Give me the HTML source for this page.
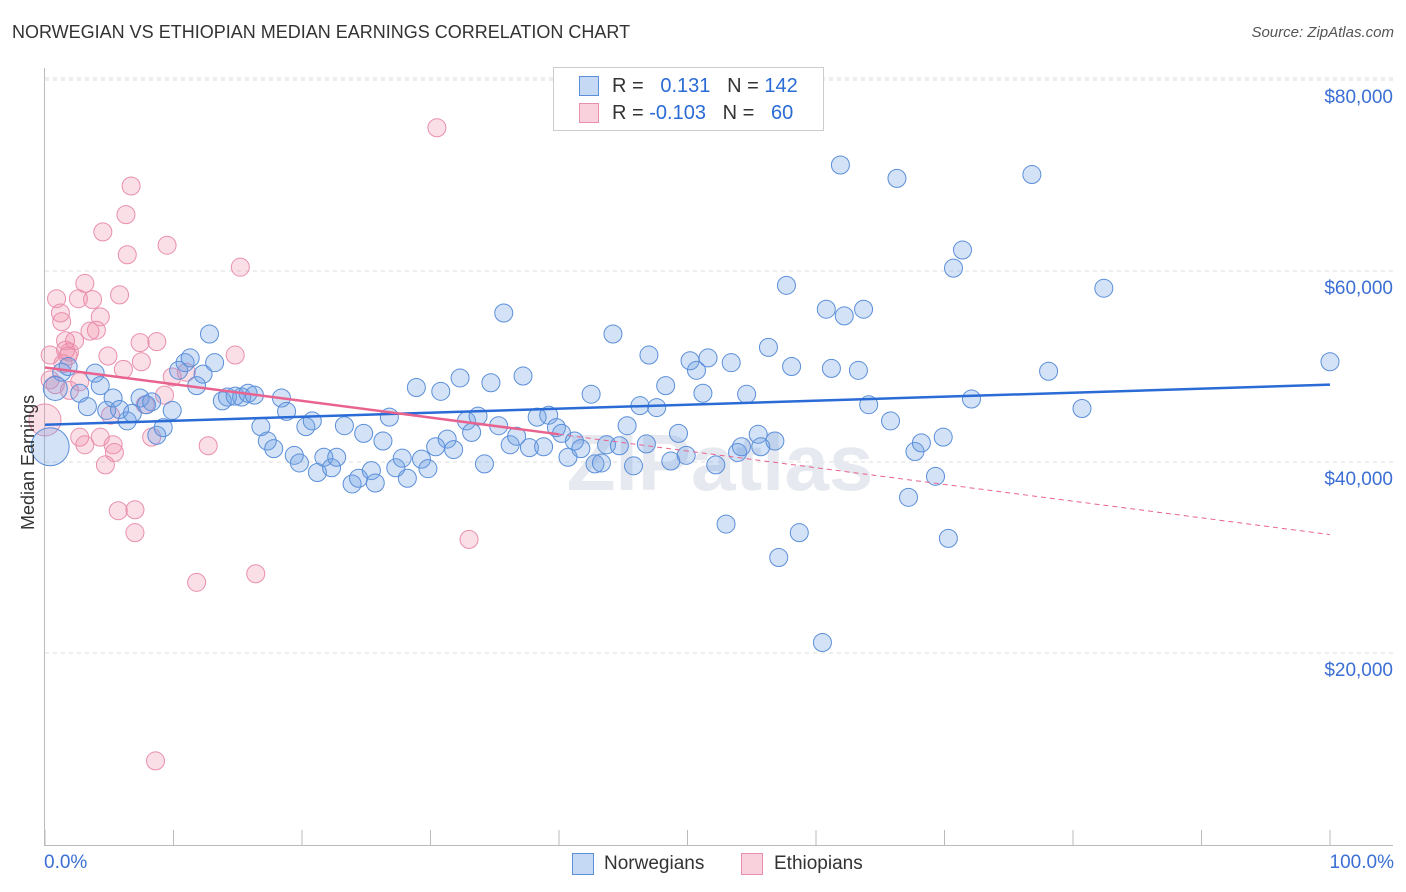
<!DOCTYPE html>
<html><head><meta charset="utf-8"><style>
body{margin:0;background:#fff;font-family:"Liberation Sans",sans-serif;}
#wrap{position:relative;width:1406px;height:892px;}
.t{position:absolute;white-space:nowrap;}
</style></head><body>
<div id="wrap">
<div class="t" style="left:12px;top:22px;font-size:18px;color:#333;">NORWEGIAN VS ETHIOPIAN MEDIAN EARNINGS CORRELATION CHART</div>
<div class="t" style="right:12px;top:24px;font-size:15px;color:#555;font-style:italic;">Source: ZipAtlas.com</div>
<svg id="svg" width="1406" height="892" style="position:absolute;left:0;top:0"></svg>
</div>
<script>
const yTicks=[20000,40000,60000,80000];
const yTickLabels=["$20,000","$40,000","$60,000","$80,000"];
const blueX=[1.3,1.8,2.7,3.9,4.3,3.3,4.8,5.3,5.8,6.4,6.8,7.4,7.9,8.3,8.7,9.2,9.9,10.4,10.9,11.3,11.8,12.3,12.8,13.2,13.8,14.2,14.8,15.3,15.8,16.3,16.8,17.3,17.8,18.4,18.8,19.4,19.8,20.3,20.8,21.2,21.7,22.3,22.7,23.3,23.9,24.4,24.8,25.4,25.7,26.3,26.8,27.3,27.8,28.2,28.9,29.3,29.8,30.4,30.8,31.3,31.8,32.3,32.8,33.2,33.7,34.2,34.7,35.3,35.7,36.2,36.7,37.2,37.7,38.3,38.8,39.2,39.8,40.2,40.7,41.2,41.7,42.5,42.8,43.3,43.7,44.2,44.7,45.3,45.8,46.3,46.8,47.0,47.6,48.3,48.7,49.3,49.9,50.2,50.7,51.2,51.6,52.2,53.0,53.4,53.9,54.2,54.6,55.5,55.7,56.3,56.8,57.1,57.7,58.1,58.7,60.5,60.8,61.2,61.9,62.2,63.3,63.7,64.1,65.8,66.3,67.2,67.7,68.2,69.3,69.9,70.3,70.7,71.4,72.1,76.8,78.1,80.7,82.4,100,0.4,0.8];
const blueY=[49.4,50.0,47.2,49.3,48.0,45.8,45.4,46.7,45.5,44.3,45.1,46.7,46.0,46.3,42.8,43.6,45.4,49.6,50.4,50.9,48.0,49.2,53.4,50.4,46.4,46.8,46.9,46.8,47.2,47.0,43.7,42.2,41.4,46.7,45.3,40.7,39.9,43.7,44.3,38.9,40.5,39.4,40.5,43.8,37.7,38.3,43.0,39.1,37.8,42.2,44.7,39.4,40.4,38.3,47.8,40.3,39.3,41.6,47.4,42.4,41.3,48.8,44.3,43.1,44.8,39.8,48.3,43.8,55.6,41.8,42.7,49.0,41.5,44.7,41.6,44.9,43.6,43.0,40.5,42.2,41.4,47.1,39.8,39.9,41.8,53.4,41.7,43.8,39.6,45.9,41.9,51.2,45.7,48.0,40.1,43.0,40.7,50.6,49.6,47.2,50.9,39.7,33.5,50.4,41.0,41.6,47.1,42.9,41.6,52.0,42.2,30.0,58.5,50.0,32.6,21.1,56.0,49.8,71.1,55.3,49.6,56.0,46.0,44.3,69.7,36.3,41.1,42.0,38.5,42.6,32.0,60.3,62.2,46.6,70.1,49.5,45.6,58.2,50.5,41.6,47.7];
const blueR=blueX.map((v,i)=>i===blueX.length-2?19:(i===blueX.length-1?12:9));
const pinkX=[0,0.4,0.8,0.9,1.2,1.3,1.4,1.6,1.8,1.9,2.3,2.6,2.7,2.7,3.1,3.1,3.5,3.7,4.0,4.3,4.3,4.7,4.5,4.9,5.1,5.3,5.4,5.7,5.8,6.1,6.3,6.4,6.7,7.0,7.0,7.4,7.5,7.8,8.3,8.6,8.7,9.3,9.5,9.9,11.0,11.8,12.7,14.8,15.2,16.4,30.5,33.0,1.6,1.9,0.4];
const pinkY=[44.4,48.6,48.1,57.1,55.6,54.7,50.3,51.7,51.1,51.5,52.7,57.1,48.4,42.6,58.7,41.8,53.7,57.0,53.8,55.2,42.6,39.7,64.1,51.1,44.9,41.8,41.0,34.9,57.5,49.7,65.9,61.7,68.9,35.0,32.6,52.5,50.5,46.0,42.6,8.7,52.6,47.0,62.7,48.9,49.4,27.4,41.7,51.2,60.4,28.3,75.0,31.9,52.7,47.5,51.2];
const blueTrend=[43.9,48.1];
const pinkTrend=[49.9,32.4];
const X0=45,X1=1330,YB=844,PXPER=191/20000;
const sx=p=>X0+(X1-X0)*p/100;
const sy=v=>YB-v*PXPER;
const svg=document.getElementById('svg');
const NS='http://www.w3.org/2000/svg';
function mk(tag,attrs){const e=document.createElementNS(NS,tag);for(const k in attrs)e.setAttribute(k,attrs[k]);svg.appendChild(e);return e;}
// gridlines
yTicks.forEach((t,i)=>{
 const g=mk('line',{x1:X0,x2:1393,y1:sy(t),y2:sy(t),stroke:'#ddd','stroke-dasharray':'4,4'});
 
 
 const tx=mk('text',{x:1393,y:sy(t)+23,'text-anchor':'end','font-size':19,fill:'#3b6fd4','font-family':'Liberation Sans'});
 tx.textContent=yTickLabels[i];
 
 
});
const topG=mk('line',{x1:X0,x2:1393,y1:78,y2:78,stroke:'#ddd','stroke-dasharray':'4,4'});


const ax=mk('line',{x1:44.5,x2:44.5,y1:68,y2:845,stroke:'#bbb'});


const bx=mk('line',{x1:44,x2:1393,y1:845.5,y2:845.5,stroke:'#bbb'});


for(let i=0;i<=10;i++){
 const tk=mk('line',{x1:sx(i*10),x2:sx(i*10),y1:830,y2:845,stroke:'#bbb'});
 
 
}
// watermark
const wm=mk('text',{x:720,y:490,'text-anchor':'middle','font-size':80,fill:'#e6e9ef','font-family':'Liberation Sans','font-weight':'bold'});
wm.textContent='ZIPatlas';


pinkX.forEach((p,i)=>{
 const c=mk('circle',{cx:sx(p),cy:sy(pinkY[i]*1000),r:i===0?16:9,fill:'rgba(240,140,170,0.28)',stroke:'#e98fae','stroke-width':1});
 
 
});
blueX.forEach((p,i)=>{
 const c=mk('circle',{cx:sx(p),cy:sy(blueY[i]*1000),r:blueR[i],fill:'rgba(110,160,230,0.3)',stroke:'#5b8fd9','stroke-width':1});
 
 
});
const bl=mk('line',{x1:sx(0),y1:sy(blueTrend[0]*1000),x2:sx(100),y2:sy(blueTrend[1]*1000),stroke:'#2a6bd6','stroke-width':2.5});


const pm=40,pv=pinkTrend[0]+(pinkTrend[1]-pinkTrend[0])*pm/100;
const pl=mk('line',{x1:sx(0),y1:sy(pinkTrend[0]*1000),x2:sx(pm),y2:sy(pv*1000),stroke:'#e8648f','stroke-width':2.5});


const pd=mk('line',{x1:sx(pm),y1:sy(pv*1000),x2:sx(100),y2:sy(pinkTrend[1]*1000),stroke:'#e8648f','stroke-width':1,'stroke-dasharray':'5,4'});


</script>
<div class="t" style="left:18px;top:530px;transform:rotate(-90deg);transform-origin:0 0;font-size:18px;color:#333;">Median Earnings</div>
<div class="t" style="left:44px;top:852px;font-size:19px;color:#3b6fd4;">0.0%</div>
<div class="t" style="right:12px;top:852px;font-size:19px;color:#3b6fd4;">100.0%</div>
<div style="position:absolute;left:553px;top:67px;width:269px;height:62px;border:1px solid #ccc;background:#fff;font-size:20px;">
 <div class="t" style="left:25px;top:8px;width:20px;height:20px;background:rgba(110,160,230,0.4);border:1px solid #5b8fd9;box-sizing:border-box;"></div>
 <div class="t" style="left:58px;top:7px;color:#333;">R = &nbsp;&nbsp;<span style="color:#2a6bd6">0.131</span>&nbsp;&nbsp;&nbsp;N = <span style="color:#2a6bd6">142</span></div>
 <div class="t" style="left:25px;top:35px;width:20px;height:20px;background:rgba(240,140,170,0.4);border:1px solid #e98fae;box-sizing:border-box;"></div>
 <div class="t" style="left:58px;top:34px;color:#333;">R = <span style="color:#2a6bd6">-0.103</span>&nbsp;&nbsp;&nbsp;N = &nbsp;&nbsp;<span style="color:#2a6bd6">60</span></div>
</div>
<div class="t" style="left:572px;top:853px;width:22px;height:22px;background:rgba(110,160,230,0.4);border:1px solid #5b8fd9;box-sizing:border-box;"></div>
<div class="t" style="left:604px;top:853px;font-size:19px;color:#333;">Norwegians</div>
<div class="t" style="left:741px;top:853px;width:22px;height:22px;background:rgba(240,140,170,0.4);border:1px solid #e98fae;box-sizing:border-box;"></div>
<div class="t" style="left:774px;top:853px;font-size:19px;color:#333;">Ethiopians</div>
</body></html>
